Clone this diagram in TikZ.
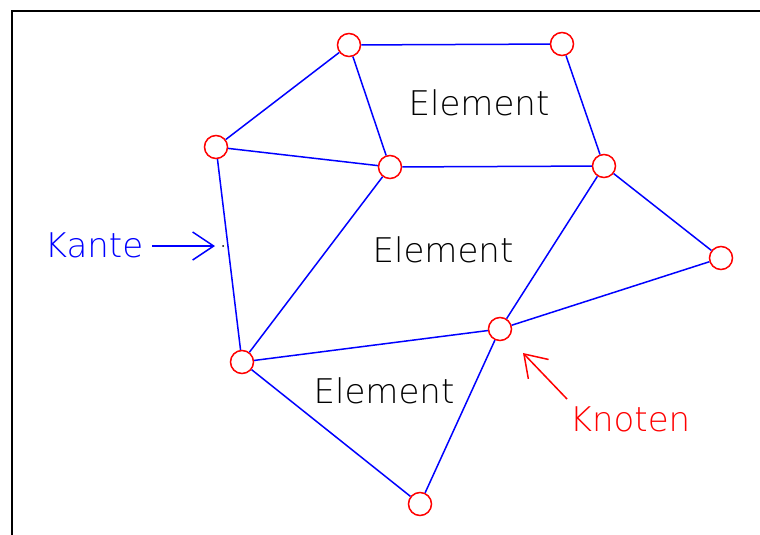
\documentclass[tikz,border=0pt]{standalone}
\usepackage{fontspec}
\setmainfont{DejaVu Sans ExtraLight}
\usetikzlibrary{arrows.meta}
\definecolor{cadblue}{RGB}{0,0,255}
\definecolor{cadred}{RGB}{255,0,0}
\begin{document}
\begin{tikzpicture}[x=1pt,y=-1pt,
  knot/.style={circle,draw=cadred,line width=1.5pt,minimum size=23pt,inner sep=0pt,fill=white},
  edge/.style={draw=cadblue,line width=1.5pt},
  lbl/.style={font=\fontsize{34}{40}\selectfont,anchor=base,inner sep=0pt},
  pointer/.style={line width=1.5pt,-{Straight Barb[length=21pt,width=28pt,line width=1.5pt]}}]
\useasboundingbox (0,0) rectangle (760,535);
\fill[white] (0,0) rectangle (760,535);
\draw[line width=1.6pt,black] (12,535) -- (12,11) -- (760,11);
% knots
\node[knot] (A) at (349,45) {};
\node[knot] (B) at (562,44) {};
\node[knot] (C) at (216,147) {};
\node[knot] (D) at (390,167) {};
\node[knot] (E) at (604,166) {};
\node[knot] (F) at (721,258) {};
\node[knot] (G) at (500,329) {};
\node[knot] (H) at (242,362) {};
\node[knot] (I) at (420,504) {};
% edges
\draw[edge] (A) -- (B);
\draw[edge] (A) -- (C);
\draw[edge] (A) -- (D);
\draw[edge] (B) -- (E);
\draw[edge] (C) -- (D);
\draw[edge] (D) -- (E);
\draw[edge] (C) -- (H);
\draw[edge] (D) -- (H);
\draw[edge] (E) -- (G);
\draw[edge] (E) -- (F);
\draw[edge] (F) -- (G);
\draw[edge] (G) -- (H);
\draw[edge] (H) -- (I);
\draw[edge] (G) -- (I);
% labels
\node[lbl] (el1) at (479,115) {Element};
\node[lbl] (el2) at (443,262) {Element};
\node[lbl] (el3) at (384,403) {Element};
\node[lbl,text=cadblue] (kante) at (94,257) {Kante};
\node[lbl,text=cadred] (knoten) at (630,431) {Knoten};
% pointers
\coordinate (kantetip) at (215,246);
\coordinate (kantetail) at (152,246);
\draw[pointer,cadblue] (kantetail) -- (kantetip);
\fill[black] (223,246) circle (1pt);
\coordinate (knotentail) at (567,399);
\coordinate (knotentip) at (523,353);
\draw[pointer,cadred] (knotentail) -- (knotentip);
\end{tikzpicture}
\end{document}
